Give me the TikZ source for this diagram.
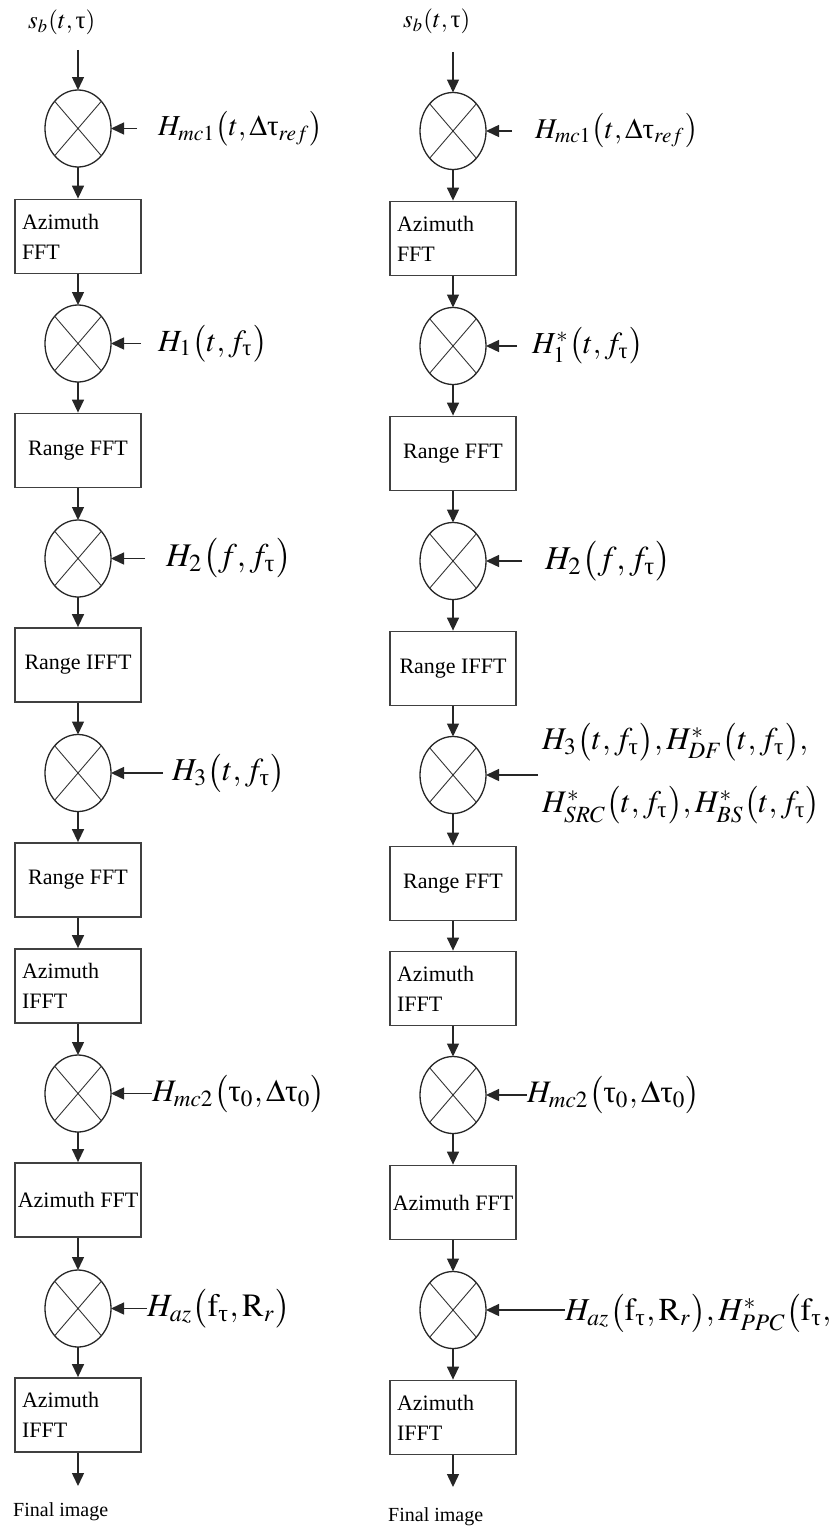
\documentclass[tikz,border=0pt]{standalone}
\usepackage{amsmath}
\usepackage{mathptmx}
\usepackage{fontspec}
\setmainfont{Liberation Serif}
\usetikzlibrary{arrows.meta,shapes.geometric}
\newcommand{\tauu}{\text{τ}}
\tikzset{
  arr/.style={line width=1.4pt, draw=black!85, -{Triangle[length=13pt,width=12pt]}},
  xl/.style={line width=0.9pt, draw=black!80},
  mult/.style={draw=black!85, ellipse, line width=1.3pt, minimum width=66pt, minimum height=77pt, inner sep=0pt, outer sep=0pt},
  boxbase/.style={draw=black!75, line width=1.8pt, minimum width=126pt, minimum height=74pt, inner ysep=0pt, font=\fontsize{22}{30}\selectfont},
  twobox/.style={boxbase, align=left, text width=112pt, inner xsep=7pt},
  onebox/.style={boxbase, align=center, inner xsep=2pt},
  lbl/.style={anchor=west, inner sep=0pt},
  fin/.style={anchor=west, inner sep=0pt, font=\fontsize{20}{24}\selectfont}
}
\begin{document}
\begin{tikzpicture}[x=1pt,y=-1pt]
\useasboundingbox (0,0) rectangle (834,1528);

% ---------------- Left column ----------------
\node[lbl] (Ls) at (28,22) {\resizebox{67pt}{!}{$s_b(t,\tauu)$}};
\coordinate (Lstart) at (78,50);
\node[mult] (Lm1) at (78,128.5) {};
\node[twobox] (Lb1) at (78,236.5) {Azimuth\\FFT};
\node[mult] (Lm2) at (78,343.5) {};
\node[onebox] (Lb2) at (78,450.5) {Range FFT};
\node[mult] (Lm3) at (78,558.5) {};
\node[onebox] (Lb3) at (78,665) {Range IFFT};
\node[mult] (Lm4) at (78,773) {};
\node[onebox] (Lb4) at (78,880) {Range FFT};
\node[twobox] (Lb5) at (78,986) {Azimuth\\IFFT};
\node[mult] (Lm5) at (78,1093.5) {};
\node[onebox] (Lb6) at (78,1200) {Azimuth FFT};
\node[mult] (Lm6) at (78,1308.5) {};
\node[twobox] (Lb7) at (78,1415) {Azimuth\\IFFT};
\coordinate (Lend) at (78,1486);
\node[fin] (Lfin) at (13,1512) {Final image};

\draw[arr] (Lstart) -- (Lm1);
\draw[arr] (Lm1) -- (Lb1);
\draw[arr] (Lb1) -- (Lm2);
\draw[arr] (Lm2) -- (Lb2);
\draw[arr] (Lb2) -- (Lm3);
\draw[arr] (Lm3) -- (Lb3);
\draw[arr] (Lb3) -- (Lm4);
\draw[arr] (Lm4) -- (Lb4);
\draw[arr] (Lb4) -- (Lb5);
\draw[arr] (Lb5) -- (Lm5);
\draw[arr] (Lm5) -- (Lb6);
\draw[arr] (Lb6) -- (Lm6);
\draw[arr] (Lm6) -- (Lb7);
\draw[arr] (Lb7) -- (Lend);

% left side inputs
\node[lbl] (Lh1) at (158,128.5) {\resizebox{165pt}{!}{$H_{mc1}\bigl(t,\Delta\tauu_{ref}\bigr)$}};
\coordinate (Li1) at (137,128.5);
\draw[arr] (Li1) -- (Lm1);
\node[lbl] (Lh2) at (158,343.5) {\resizebox{109pt}{!}{$H_1\bigl(t,f_{\tauu}\bigr)$}};
\coordinate (Li2) at (141,343.5);
\draw[arr] (Li2) -- (Lm2);
\node[lbl] (Lh3) at (166,558.5) {\resizebox{125pt}{!}{$H_2\bigl(f,f_{\tauu}\bigr)$}};
\coordinate (Li3) at (145,558.5);
\draw[arr] (Li3) -- (Lm3);
\node[lbl] (Lh4) at (172,773) {\resizebox{113pt}{!}{$H_3\bigl(t,f_{\tauu}\bigr)$}};
\coordinate (Li4) at (163,773);
\draw[arr] (Li4) -- (Lm4);
\node[lbl] (Lh5) at (152,1093.5) {\resizebox{173pt}{!}{$H_{mc2}\bigl(\tauu_0,\Delta\tauu_0\bigr)$}};
\draw[arr] (Lh5.west |- Lm5) -- (Lm5);
\node[lbl] (Lh6) at (147,1308.5) {\resizebox{143pt}{!}{$H_{az}\bigl(\mathrm{f}_{\tauu},\mathrm{R}_r\bigr)$}};
\draw[arr] (Lh6.west |- Lm6) -- (Lm6);

% ---------------- Right column ----------------
\node[lbl] (Rs) at (403,21) {\resizebox{67pt}{!}{$s_b(t,\tauu)$}};
\coordinate (Rstart) at (453,52);
\node[mult] (Rm1) at (453,131) {};
\node[twobox] (Rb1) at (453,238.5) {Azimuth\\FFT};
\node[mult] (Rm2) at (453,346) {};
\node[onebox] (Rb2) at (453,453.5) {Range FFT};
\node[mult] (Rm3) at (453,561) {};
\node[onebox] (Rb3) at (453,668.5) {Range IFFT};
\node[mult] (Rm4) at (453,775) {};
\node[onebox] (Rb4) at (453,883.5) {Range FFT};
\node[twobox] (Rb5) at (453,988.5) {Azimuth\\IFFT};
\node[mult] (Rm5) at (453,1095) {};
\node[onebox] (Rb6) at (453,1202.5) {Azimuth FFT};
\node[mult] (Rm6) at (453,1310) {};
\node[twobox] (Rb7) at (453,1417.5) {Azimuth\\IFFT};
\coordinate (Rend) at (453,1487);
\node[fin] (Rfin) at (388,1517) {Final image};

\draw[arr] (Rstart) -- (Rm1);
\draw[arr] (Rm1) -- (Rb1);
\draw[arr] (Rb1) -- (Rm2);
\draw[arr] (Rm2) -- (Rb2);
\draw[arr] (Rb2) -- (Rm3);
\draw[arr] (Rm3) -- (Rb3);
\draw[arr] (Rb3) -- (Rm4);
\draw[arr] (Rm4) -- (Rb4);
\draw[arr] (Rb4) -- (Rb5);
\draw[arr] (Rb5) -- (Rm5);
\draw[arr] (Rm5) -- (Rb6);
\draw[arr] (Rb6) -- (Rm6);
\draw[arr] (Rm6) -- (Rb7);
\draw[arr] (Rb7) -- (Rend);

% right side inputs
\node[lbl] (Rh1) at (535,131) {\resizebox{163pt}{!}{$H_{mc1}\bigl(t,\Delta\tauu_{ref}\bigr)$}};
\coordinate (Ri1) at (512,131);
\draw[arr] (Ri1) -- (Rm1);
\node[lbl] (Rh2) at (532,346) {\resizebox{111pt}{!}{$H_1^{*}\bigl(t,f_{\tauu}\bigr)$}};
\coordinate (Ri2) at (517,346);
\draw[arr] (Ri2) -- (Rm2);
\node[lbl] (Rh3) at (545,561) {\resizebox{126pt}{!}{$H_2\bigl(f,f_{\tauu}\bigr)$}};
\coordinate (Ri3) at (522,561);
\draw[arr] (Ri3) -- (Rm3);
\node[lbl] (Rh4a) at (542,742) {\resizebox{266pt}{!}{$H_3\bigl(t,f_{\tauu}\bigr),H^{*}_{DF}\bigl(t,f_{\tauu}\bigr),$}};
\node[lbl] (Rh4b) at (542,805) {\resizebox{278pt}{!}{$H^{*}_{SRC}\bigl(t,f_{\tauu}\bigr),H^{*}_{BS}\bigl(t,f_{\tauu}\bigr)$}};
\coordinate (Ri4) at (538,775);
\draw[arr] (Ri4) -- (Rm4);
\node[lbl] (Rh5) at (527,1095) {\resizebox{173pt}{!}{$H_{mc2}\bigl(\tauu_0,\Delta\tauu_0\bigr)$}};
\draw[arr] (Rh5.west |- Rm5) -- (Rm5);
\node[lbl] (Rh6) at (565,1313) {\resizebox{266pt}{!}{$H_{az}\bigl(\mathrm{f}_{\tauu},\mathrm{R}_r\bigr),H^{*}_{PPC}\bigl(\mathrm{f}_{\tauu},$}};
\draw[arr] (Rh6.west |- Rm6) -- (Rm6);

% crosses inside the multipliers
\foreach \n in {Lm1,Lm2,Lm3,Lm4,Lm5,Lm6,Rm1,Rm2,Rm3,Rm4,Rm5,Rm6}
  \draw[xl] (\n.north east) -- (\n.south west) (\n.north west) -- (\n.south east);
\end{tikzpicture}
\end{document}
